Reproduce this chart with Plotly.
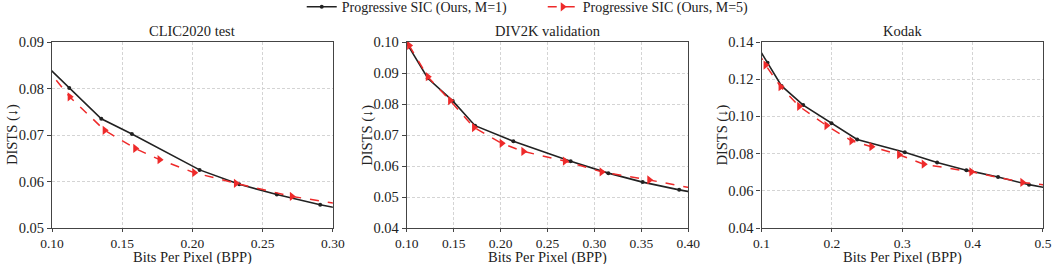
import plotly.graph_objects as go

# ---- data ----
titles = ["CLIC2020 test", "DIV2K validation", "Kodak"]

clic_bpp_m1 = [0.095, 0.1123, 0.1351, 0.1569, 0.2051, 0.2333, 0.2601, 0.2910, 0.31]
clic_dists_m1 = [0.0852, 0.0801, 0.0735, 0.0702, 0.0625, 0.0594, 0.0572, 0.0550, 0.0539]
clic_bpp_m5 = [0.095, 0.1126, 0.1375, 0.1593, 0.1766, 0.2013, 0.2310, 0.2708, 0.31]
clic_dists_m5 = [0.0848, 0.0782, 0.0710, 0.0671, 0.0647, 0.0619, 0.0596, 0.0568, 0.0549]

div_bpp_m1 = [0.1005, 0.1224, 0.1490, 0.1728, 0.2136, 0.2747, 0.3148, 0.3514, 0.3904, 0.41]
div_dists_m1 = [0.0993, 0.0883, 0.0810, 0.0730, 0.0680, 0.0615, 0.0577, 0.0548, 0.0523, 0.0512]
div_bpp_m5 = [0.1025, 0.1224, 0.1462, 0.1717, 0.2012, 0.2243, 0.2686, 0.3077, 0.3585, 0.41]
div_dists_m5 = [0.0989, 0.0888, 0.0811, 0.0724, 0.0673, 0.0647, 0.0616, 0.0581, 0.0555, 0.0525]

kod_bpp_m1 = [0.095, 0.1085, 0.1284, 0.1592, 0.1994, 0.2359, 0.3036, 0.3495, 0.3911, 0.4361, 0.4801, 0.52]
kod_dists_m1 = [0.1372, 0.1288, 0.1164, 0.1061, 0.0963, 0.0876, 0.0807, 0.0752, 0.0711, 0.0674, 0.0633, 0.0605]
kod_bpp_m5 = [0.095, 0.1057, 0.1270, 0.1535, 0.1923, 0.2278, 0.2562, 0.2955, 0.3305, 0.3982, 0.4707, 0.52]
kod_dists_m5 = [0.1345, 0.1276, 0.1160, 0.1054, 0.0951, 0.0869, 0.0837, 0.0794, 0.0743, 0.0702, 0.0645, 0.0625]

x_ranges = [[0.10, 0.30], [0.10, 0.40], [0.1, 0.5]]
x_ticks = [[0.10, 0.15, 0.20, 0.25, 0.30],
           [0.10, 0.15, 0.20, 0.25, 0.30, 0.35, 0.40],
           [0.1, 0.2, 0.3, 0.4, 0.5]]
x_fmt = [".2f", ".2f", ".1f"]
y_ranges = [[0.05, 0.09], [0.04, 0.10], [0.04, 0.14]]
y_ticks = [[0.05, 0.06, 0.07, 0.08, 0.09],
           [0.04, 0.05, 0.06, 0.07, 0.08, 0.09, 0.10],
           [0.04, 0.06, 0.08, 0.10, 0.12, 0.14]]

series = [
    (clic_bpp_m1, clic_dists_m1, clic_bpp_m5, clic_dists_m5),
    (div_bpp_m1, div_dists_m1, div_bpp_m5, div_dists_m5),
    (kod_bpp_m1, kod_dists_m1, kod_bpp_m5, kod_dists_m5),
]
names = ["Progressive SIC (Ours, M=1)", "Progressive SIC (Ours, M=5)"]

domains = [[0.0, 0.2834], [0.358, 0.642], [0.716, 1.0]]
FONT = "Liberation Serif, Times New Roman, serif"
TXT = "#222222"

fig = go.Figure()
for i, (bx, by, rx, ry) in enumerate(series):
    xa = "x" if i == 0 else f"x{i+1}"
    ya = "y" if i == 0 else f"y{i+1}"
    fig.add_trace(go.Scatter(
        x=bx, y=by, xaxis=xa, yaxis=ya, mode="lines+markers", name=names[0],
        line=dict(color="#222222", width=1.6),
        marker=dict(symbol="circle", size=4, color="#222222"),
        showlegend=(i == 0)))
    fig.add_trace(go.Scatter(
        x=rx, y=ry, xaxis=xa, yaxis=ya, mode="lines+markers", name=names[1],
        line=dict(color="#ee2a2a", width=1.5, dash="dash"),
        marker=dict(symbol="triangle-right", size=8, color="#ee2a2a"),
        showlegend=(i == 0)))

axis_common = dict(
    showline=True, linecolor="#444444", linewidth=1.2, mirror=True,
    ticks="outside", tickcolor="#444444",
    showgrid=True, gridcolor="#d4d4d4", griddash="3px,2px", gridwidth=0.8,
    zeroline=False, automargin=False,
)

layout = {}
annotations = []
for i in range(3):
    xk = "xaxis" if i == 0 else f"xaxis{i+1}"
    yk = "yaxis" if i == 0 else f"yaxis{i+1}"
    layout[xk] = dict(axis_common, domain=domains[i], range=x_ranges[i],
                      tickvals=x_ticks[i], tickformat=x_fmt[i], ticklen=3,
                      tickfont=dict(family=FONT, size=13.5, color=TXT),
                      anchor="y" if i == 0 else f"y{i+1}")
    layout[yk] = dict(axis_common, domain=[0, 1], range=y_ranges[i],
                      tickvals=y_ticks[i], tickformat=".2f", ticklen=4,
                      tickfont=dict(family=FONT, size=14.5, color=TXT),
                      anchor="x" if i == 0 else f"x{i+1}")
    mid = (domains[i][0] + domains[i][1]) / 2
    annotations.append(dict(
        text=titles[i], x=mid, y=1.0, xref="paper", yref="paper",
        xanchor="center", yanchor="bottom", yshift=1, showarrow=False,
        font=dict(family=FONT, size=14.5, color=TXT)))
    annotations.append(dict(
        text="Bits Per Pixel (BPP)", x=mid, y=0.0, xref="paper", yref="paper",
        xanchor="center", yanchor="middle", yshift=-29, showarrow=False,
        font=dict(family=FONT, size=14.5, color=TXT)))
    annotations.append(dict(
        text="DISTS (↓)", x=domains[i][0], y=0.5, xref="paper", yref="paper",
        xanchor="center", yanchor="middle", xshift=-40, textangle=-90,
        showarrow=False, font=dict(family=FONT, size=14.5, color=TXT)))

fig.update_layout(
    width=1058, height=264,
    margin=dict(l=52, r=15, t=42, b=36, autoexpand=False),
    paper_bgcolor="white", plot_bgcolor="white",
    font=dict(family=FONT, color=TXT),
    legend=dict(orientation="h", x=0.252, xanchor="left", y=1.187, yanchor="middle",
                font=dict(family=FONT, size=14, color=TXT),
                entrywidth=196, entrywidthmode="pixels",
                tracegroupgap=0, bgcolor="rgba(0,0,0,0)"),
    annotations=annotations,
    **layout,
)

fig.write_html("out.html", config={"displayModeBar": False},
               post_script="document.body.style.margin='0';document.body.style.overflow='hidden';")
